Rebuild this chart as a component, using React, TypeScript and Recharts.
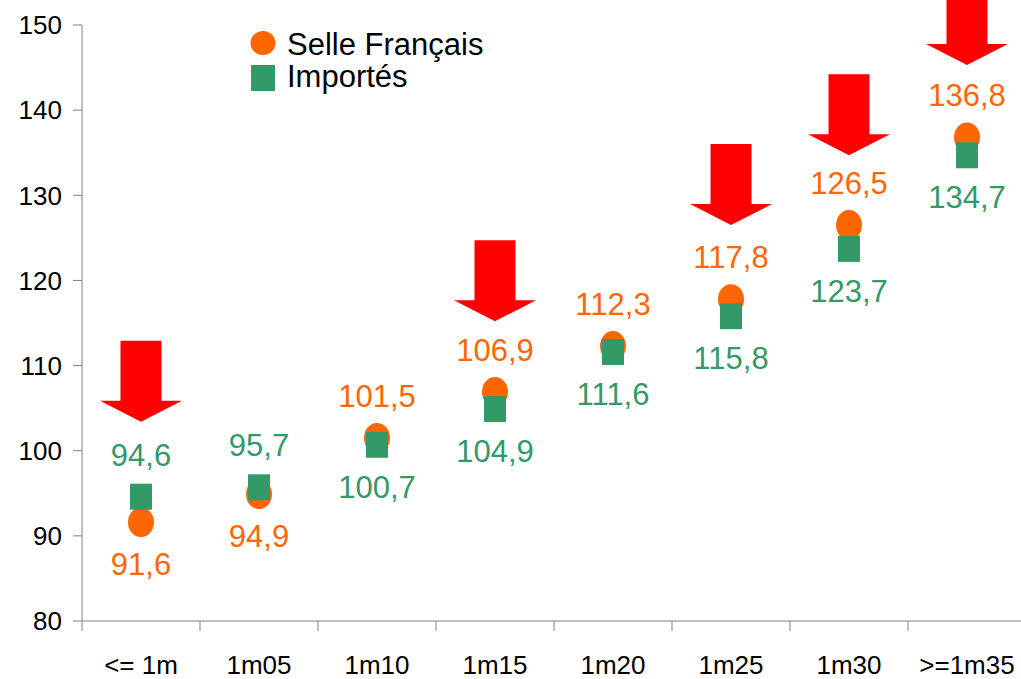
import React from 'react';
import { ComposedChart, Scatter, XAxis, YAxis, Legend } from 'recharts';

// hauteur au garrot -> indice moyen
const categories = ['<= 1m', '1m05', '1m10', '1m15', '1m20', '1m25', '1m30', '>=1m35'];
const selleFrancais = [91.6, 94.9, 101.5, 106.9, 112.3, 117.8, 126.5, 136.8];
const importes = [94.6, 95.7, 100.7, 104.9, 111.6, 115.8, 123.7, 134.7];
// tip of each red arrow, in axis units (null = no arrow)
const arrowTips = [103.4, null, null, 115.2, null, 126.5, 134.7, 145.3];
const yTicks = [80, 90, 100, 110, 120, 130, 140, 150];
const seriesNames = ['Selle Français', 'Importés'];

const ORANGE = '#ff6600';
const GREEN = '#339966';
const RED = '#ff0000';
const AXIS = '#808080';
const FONT = '"Liberation Sans", Arial, sans-serif';

const W = 1026;
const H = 679;
const Y_AXIS_W = 82;
const BAND = (W - Y_AXIS_W) / categories.length;

const data = categories.map((cat, i) => ({
  cat,
  sf: selleFrancais[i],
  imp: importes[i],
  arrow: arrowTips[i],
}));

const fmt = (v: number) => v.toFixed(1).replace('.', ',');

const SelleShape = (props: any) => {
  const { cx, cy, payload } = props;
  const above = payload.sf >= payload.imp;
  return (
    <g>
      <ellipse cx={cx} cy={cy} rx={13} ry={15} fill={ORANGE} />
      <text x={cx} y={above ? cy - 31 : cy + 53} textAnchor="middle" fill={ORANGE} fontSize={31} fontFamily={FONT}>
        {fmt(payload.sf)}
      </text>
    </g>
  );
};

const ImportShape = (props: any) => {
  const { cx, cy, payload } = props;
  const above = payload.imp > payload.sf;
  return (
    <g>
      <rect x={cx - 11} y={cy - 13} width={22} height={26} fill={GREEN} />
      <text x={cx} y={above ? cy - 31 : cy + 53} textAnchor="middle" fill={GREEN} fontSize={31} fontFamily={FONT}>
        {fmt(payload.imp)}
      </text>
    </g>
  );
};

const ArrowShape = (props: any) => {
  const { cx, cy, payload } = props;
  if (payload.arrow == null || cx == null || cy == null || isNaN(cy)) return <g />;
  const pts = [
    [cx - 20.5, cy - 81],
    [cx + 20.5, cy - 81],
    [cx + 20.5, cy - 21],
    [cx + 41, cy - 21],
    [cx, cy],
    [cx - 41, cy - 21],
    [cx - 20.5, cy - 21],
  ]
    .map((p) => p.join(','))
    .join(' ');
  return <polygon points={pts} fill={RED} />;
};

const XTick = (props: any) => {
  const { x, y, payload } = props;
  const bx = x - BAND / 2;
  return (
    <g>
      <line x1={bx} y1={y} x2={bx} y2={y + 10} stroke={AXIS} strokeWidth={1} />
      <text x={x} y={y + 53} textAnchor="middle" fill="#000" fontSize={26} fontFamily={FONT}>
        {payload.value}
      </text>
    </g>
  );
};

const LegendBox = () => (
  <svg width={520} height={100} style={{ display: 'block' }}>
    <ellipse cx={263} cy={43} rx={12.5} ry={12} fill={ORANGE} />
    <text x={287} y={55} fontSize={31} fontFamily={FONT} fill="#000">
      {seriesNames[0]}
    </text>
    <rect x={251} y={65} width={24} height={26} fill={GREEN} />
    <text x={287} y={87} fontSize={31} fontFamily={FONT} fill="#000">
      {seriesNames[1]}
    </text>
  </svg>
);

export default function App() {
  return (
    <div
      style={{
        position: 'absolute',
        left: 0,
        top: 0,
        width: 1021,
        height: 679,
        overflow: 'hidden',
        background: '#fff',
      }}
    >
      <ComposedChart width={W} height={H} data={data} margin={{ top: 25, right: 0, left: 0, bottom: 0 }}>
        <XAxis
          dataKey="cat"
          height={H - 621}
          padding={{ left: BAND / 2, right: BAND / 2 }}
          axisLine={{ stroke: AXIS }}
          tickLine={false}
          tickSize={0}
          tickMargin={0}
          interval={0}
          tick={<XTick />}
        />
        <YAxis
          width={Y_AXIS_W}
          domain={[80, 150]}
          ticks={yTicks}
          interval={0}
          axisLine={{ stroke: AXIS }}
          tickLine={{ stroke: AXIS }}
          tickSize={9}
          tickMargin={11}
          tick={{ fontSize: 26, fill: '#000', fontFamily: FONT }}
        />
        <Legend
          layout="vertical"
          align="center"
          verticalAlign="middle"
          wrapperStyle={{ left: 0, top: 0, width: 520, height: 100 }}
          content={() => <LegendBox />}
        />
        <Scatter name={seriesNames[0]} dataKey="sf" shape={<SelleShape />} isAnimationActive={false} />
        <Scatter name={seriesNames[1]} dataKey="imp" shape={<ImportShape />} isAnimationActive={false} />
        <Scatter dataKey="arrow" shape={<ArrowShape />} legendType="none" isAnimationActive={false} />
      </ComposedChart>
    </div>
  );
}
